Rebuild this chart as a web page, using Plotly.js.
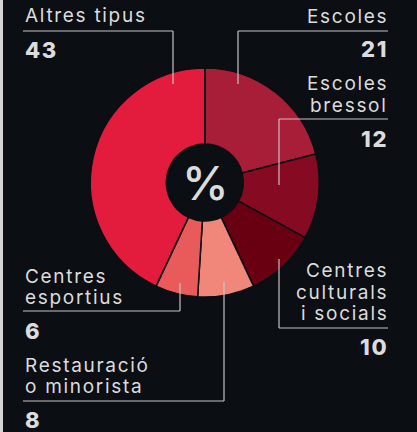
<!DOCTYPE html>
<html>
<head>
<meta charset="utf-8">
<script src="https://cdn.plot.ly/plotly-3.0.1.min.js"></script>
<style>
  html, body { margin: 0; padding: 0; background: #0b0e12; }
  #chart { width: 417px; height: 432px; }
  .annotation-text { letter-spacing: 1.7px; }
</style>
</head>
<body>
<div id="chart"></div>
<script>
// ---- data ----
const categories = ['Escoles', 'Escoles bressol', 'Centres culturals i socials', 'Restauració o minorista', 'Centres esportius', 'Altres tipus'];
const values = [21, 12, 10, 8, 6, 43];
const labelLines = [
  ['Escoles'],
  ['Escoles', 'bressol'],
  ['Centres', 'culturals', 'i socials'],
  ['Restauració', 'o minorista'],
  ['Centres', 'esportius'],
  ['Altres tipus']
];
const centerLabel = '%';

// ---- styles ----
const sliceColors = ['#a81d37', '#850a22', '#690012', '#f0877a', '#e85b5a', '#e31c3e'];
const bg = '#0b0e12';
const textColor = '#dcdcdc';
const lineColor = '#c4c4c4';
const W = 417, H = 432;

// ---- label layout (pixel positions of text and leader lines) ----
const labelLayout = [
  { side: 'right', x: 389.5, y0: 16.3, valueY: 49.3, path: [[238, 84], [238, 31], [388, 31]] },
  { side: 'right', x: 389.5, y0: 83.9, valueY: 139.2, path: [[279, 185], [279, 119], [388, 119]] },
  { side: 'right', x: 389.5, y0: 270.9, valueY: 347.2, path: [[279, 259], [279, 328], [388, 328]] },
  { side: 'left', x: 23, y0: 365.5, valueY: 419.5, path: [[224, 282], [224, 401], [23, 401]] },
  { side: 'left', x: 23, y0: 276.2, valueY: 331.2, path: [[180, 283], [180, 311], [23, 311]] },
  { side: 'left', x: 23, y0: 15.9, valueY: 49.5, path: [[173, 84], [173, 31], [23, 31]] }
];
const lineGap = 21.2;
const pieCx = 204.8, pieCy = 182.5, pieR = 114.5;

const px = x => x / W;
const py = y => 1 - y / H;

const annotations = [];
const shapes = [];

shapes.push({ type: 'rect', xref: 'paper', yref: 'paper', x0: 0, x1: px(3), y0: 0, y1: 1,
  fillcolor: '#d6d6d6', line: { width: 0 }, layer: 'below' });

categories.forEach((cat, i) => {
  const L = labelLayout[i];
  labelLines[i].forEach((t, k) => {
    annotations.push({
      xref: 'paper', yref: 'paper', x: px(L.x), y: py(L.y0 + k * lineGap),
      text: t, showarrow: false, xanchor: L.side === 'right' ? 'right' : 'left', yanchor: 'middle',
      align: L.side, font: { family: 'Inter', size: 19, color: textColor }
    });
  });
  annotations.push({
    xref: 'paper', yref: 'paper', x: px(L.x), y: py(L.valueY),
    text: String(values[i]), showarrow: false, xanchor: L.side === 'right' ? 'right' : 'left', yanchor: 'middle',
    align: L.side, font: { family: 'Inter', size: 22, color: textColor, weight: 800 }
  });
  const p = L.path;
  for (let s = 0; s < p.length - 1; s++) {
    shapes.push({ type: 'line', xref: 'paper', yref: 'paper',
      x0: px(p[s][0]), y0: py(p[s][1]), x1: px(p[s + 1][0]), y1: py(p[s + 1][1]),
      line: { color: lineColor, width: 1.2 } });
  }
});

annotations.push({
  xref: 'paper', yref: 'paper', x: px(pieCx + 0.9), y: py(pieCy), text: centerLabel, showarrow: false,
  xanchor: 'center', yanchor: 'middle', font: { family: 'Inter', size: 47, color: textColor, weight: 500 }
});

const trace = {
  type: 'pie',
  labels: categories,
  values: values,
  sort: false,
  direction: 'clockwise',
  rotation: 0,
  hole: 0.336,
  textinfo: 'none',
  hoverinfo: 'label+value',
  marker: { colors: sliceColors, line: { color: bg, width: 1.5 } },
  domain: { x: [px(pieCx - pieR), px(pieCx + pieR)], y: [py(pieCy + pieR), py(pieCy - pieR)] },
  showlegend: false
};

const layout = {
  width: W, height: H,
  margin: { l: 0, r: 0, t: 0, b: 0 },
  paper_bgcolor: bg, plot_bgcolor: bg,
  showlegend: false,
  annotations: annotations,
  shapes: shapes
};

Plotly.newPlot('chart', [trace], layout, { displayModeBar: false, staticPlot: true });
</script>
</body>
</html>
